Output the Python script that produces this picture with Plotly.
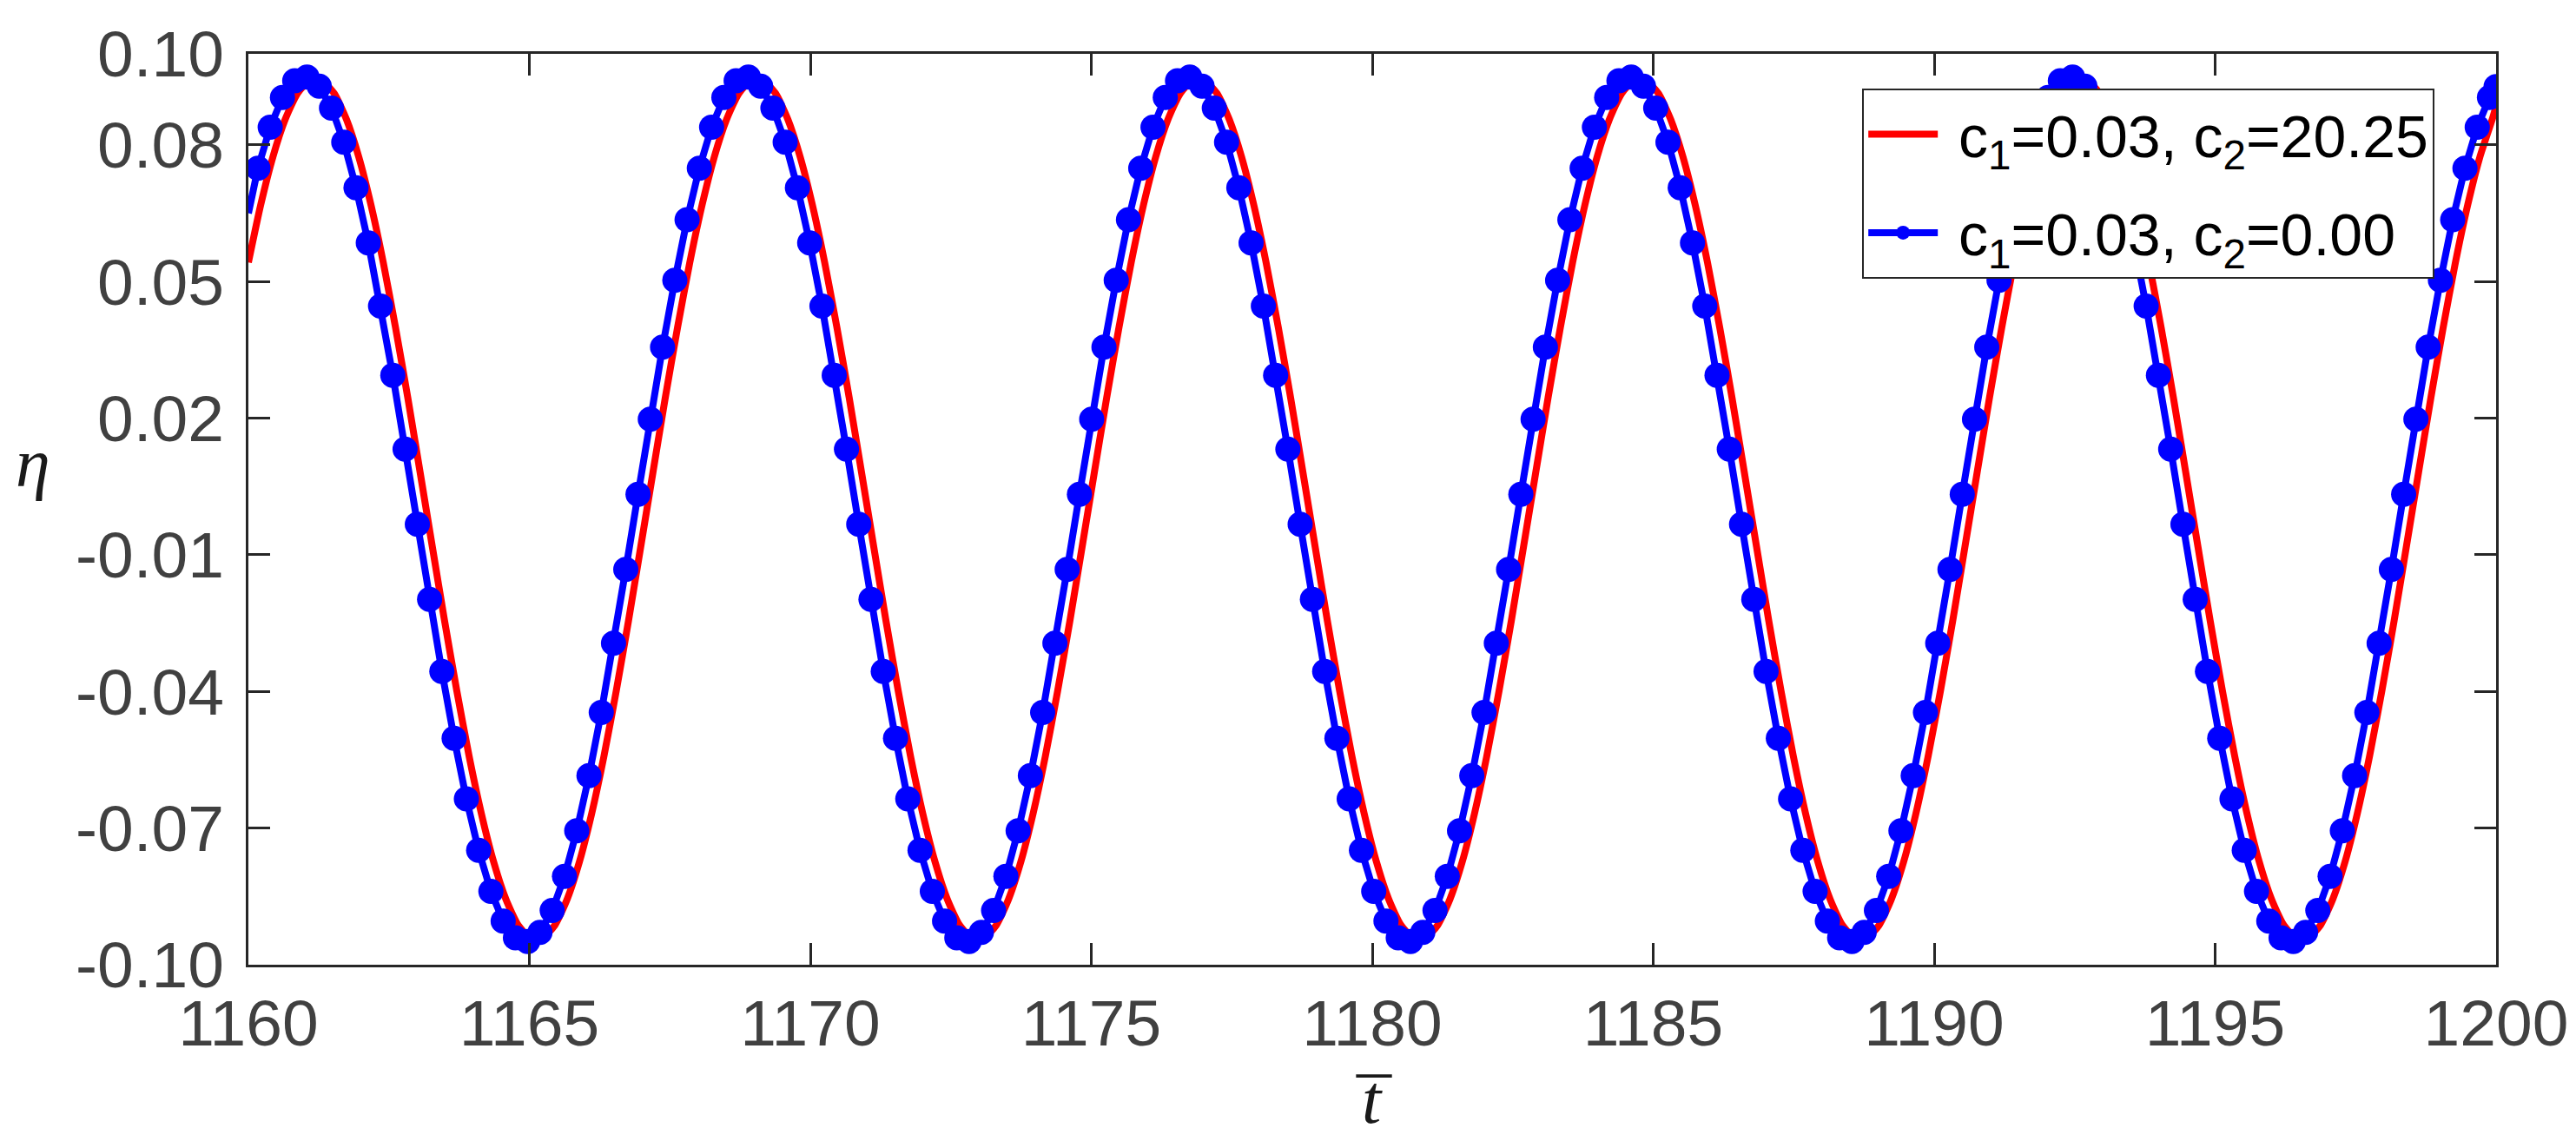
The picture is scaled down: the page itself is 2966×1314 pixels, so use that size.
import numpy as np
import plotly.graph_objects as go

# time grid (marker spacing: 36 markers per wave period)
t_red = np.round(1160.0 + 0.2182 * np.arange(184), 4).tolist() + [1200.0]
t_blue = [1160.0] + np.round(1160.17 + 0.2182 * np.arange(183), 4).tolist() + [1200.0]

# c1=0.03, c2=20.25  (red line)
eta_red = [
    0.0542, 0.0668, 0.0774, 0.0856, 0.0913, 0.0941, 0.0941, 0.0913, 0.0856, 0.0774, 0.0668, 0.0542,
    0.0399, 0.0245, 0.0082, -0.0082, -0.0245, -0.0399, -0.0542, -0.0668, -0.0774, -0.0856, -0.0913, -0.0941,
    -0.0941, -0.0913, -0.0856, -0.0774, -0.0668, -0.0542, -0.0399, -0.0245, -0.0082, 0.0082, 0.0245, 0.0399,
    0.0542, 0.0668, 0.0774, 0.0856, 0.0913, 0.0941, 0.0941, 0.0913, 0.0856, 0.0774, 0.0668, 0.0542,
    0.0399, 0.0245, 0.0082, -0.0082, -0.0245, -0.0399, -0.0542, -0.0668, -0.0774, -0.0856, -0.0913, -0.0941,
    -0.0941, -0.0913, -0.0856, -0.0774, -0.0668, -0.0542, -0.0399, -0.0245, -0.0082, 0.0082, 0.0245, 0.0399,
    0.0542, 0.0668, 0.0774, 0.0856, 0.0913, 0.0941, 0.0941, 0.0913, 0.0856, 0.0774, 0.0668, 0.0542,
    0.0399, 0.0245, 0.0082, -0.0082, -0.0245, -0.0399, -0.0542, -0.0668, -0.0774, -0.0856, -0.0913, -0.0941,
    -0.0941, -0.0913, -0.0856, -0.0774, -0.0668, -0.0542, -0.0399, -0.0245, -0.0082, 0.0082, 0.0245, 0.0399,
    0.0542, 0.0668, 0.0774, 0.0856, 0.0913, 0.0941, 0.0941, 0.0913, 0.0856, 0.0774, 0.0668, 0.0542,
    0.0399, 0.0245, 0.0082, -0.0082, -0.0245, -0.0399, -0.0542, -0.0668, -0.0774, -0.0856, -0.0913, -0.0941,
    -0.0941, -0.0913, -0.0856, -0.0774, -0.0668, -0.0542, -0.0399, -0.0245, -0.0082, 0.0082, 0.0245, 0.0399,
    0.0542, 0.0668, 0.0774, 0.0856, 0.0913, 0.0941, 0.0941, 0.0913, 0.0856, 0.0774, 0.0668, 0.0542,
    0.0399, 0.0245, 0.0082, -0.0082, -0.0245, -0.0399, -0.0542, -0.0668, -0.0774, -0.0856, -0.0913, -0.0941,
    -0.0941, -0.0913, -0.0856, -0.0774, -0.0668, -0.0542, -0.0399, -0.0245, -0.0082, 0.0082, 0.0245, 0.0399,
    0.0542, 0.0668, 0.0774, 0.0856, 0.0885,
]

# c1=0.03, c2=0.00  (blue line with markers)
eta_blue = [
    0.0650,
    0.0749, 0.0839, 0.0904, 0.0941, 0.0949, 0.0929, 0.0881, 0.0806, 0.0706, 0.0585, 0.0446, 0.0294,
    0.0132, -0.0033, -0.0198, -0.0356, -0.0503, -0.0636, -0.0749, -0.0839, -0.0904, -0.0941, -0.0949, -0.0929,
    -0.0881, -0.0806, -0.0706, -0.0585, -0.0446, -0.0294, -0.0132, 0.0033, 0.0198, 0.0356, 0.0503, 0.0636,
    0.0749, 0.0839, 0.0904, 0.0941, 0.0949, 0.0929, 0.0881, 0.0806, 0.0706, 0.0585, 0.0446, 0.0294,
    0.0132, -0.0033, -0.0198, -0.0356, -0.0503, -0.0636, -0.0749, -0.0839, -0.0904, -0.0941, -0.0949, -0.0929,
    -0.0881, -0.0806, -0.0706, -0.0585, -0.0446, -0.0294, -0.0132, 0.0033, 0.0198, 0.0356, 0.0503, 0.0636,
    0.0749, 0.0839, 0.0904, 0.0941, 0.0949, 0.0929, 0.0881, 0.0806, 0.0706, 0.0585, 0.0446, 0.0294,
    0.0132, -0.0033, -0.0198, -0.0356, -0.0503, -0.0636, -0.0749, -0.0839, -0.0904, -0.0941, -0.0949, -0.0929,
    -0.0881, -0.0806, -0.0706, -0.0585, -0.0446, -0.0294, -0.0132, 0.0033, 0.0198, 0.0356, 0.0503, 0.0636,
    0.0749, 0.0839, 0.0904, 0.0941, 0.0949, 0.0929, 0.0881, 0.0806, 0.0706, 0.0585, 0.0446, 0.0294,
    0.0132, -0.0033, -0.0198, -0.0356, -0.0503, -0.0636, -0.0749, -0.0839, -0.0904, -0.0941, -0.0949, -0.0929,
    -0.0881, -0.0806, -0.0706, -0.0585, -0.0446, -0.0294, -0.0132, 0.0033, 0.0198, 0.0356, 0.0503, 0.0636,
    0.0749, 0.0839, 0.0904, 0.0941, 0.0949, 0.0929, 0.0881, 0.0806, 0.0706, 0.0585, 0.0446, 0.0294,
    0.0132, -0.0033, -0.0198, -0.0356, -0.0503, -0.0636, -0.0749, -0.0839, -0.0904, -0.0941, -0.0949, -0.0929,
    -0.0881, -0.0806, -0.0706, -0.0585, -0.0446, -0.0294, -0.0132, 0.0033, 0.0198, 0.0356, 0.0503, 0.0636,
    0.0749, 0.0839, 0.0904,
    0.0928,
]
blue_marker_size = [0] + [29] * 183 + [29]

y_ticks = [-0.10, -0.07, -0.04, -0.01, 0.02, 0.05, 0.08, 0.10]
y_ticktext = ["-0.10", "-0.07", "-0.04", "-0.01", "0.02", "0.05", "0.08", "0.10"]
x_ticks = [1160, 1165, 1170, 1175, 1180, 1185, 1190, 1195, 1200]

legend_names = ["&nbsp;c<sub>1</sub>=0.03, c<sub>2</sub>=20.25",
                "&nbsp;c<sub>1</sub>=0.03, c<sub>2</sub>=0.00"]

axis_col = "#262626"
tick_font = dict(family="Liberation Sans, Arial", size=75, color="#404040")

fig = go.Figure()
fig.add_trace(go.Scatter(x=t_red, y=eta_red, mode="lines", name=legend_names[0], legendgroup="a",
                         line=dict(color="#ff0000", width=8, shape="spline", smoothing=0.6)))
fig.add_trace(go.Scatter(x=t_blue, y=eta_blue, mode="lines+markers", name=legend_names[1], legendgroup="b",
                         line=dict(color="#0000ff", width=8),
                         marker=dict(color="#0000ff", size=blue_marker_size, opacity=1,
                                     line=dict(width=0))))

fig.update_xaxes(range=[1160, 1200], tickvals=x_ticks, ticks="inside", ticklen=25, tickwidth=3,
                 tickcolor=axis_col, showline=True, linewidth=3, linecolor=axis_col, mirror="ticks",
                 showgrid=False, zeroline=False, tickfont=tick_font, ticklabelstandoff=0)
fig.update_yaxes(range=[-0.10, 0.10], tickvals=y_ticks, ticktext=y_ticktext, ticks="inside", ticklen=25,
                 tickwidth=3, tickcolor=axis_col, showline=True, linewidth=3, linecolor=axis_col,
                 mirror="ticks", showgrid=False, zeroline=False, tickfont=tick_font, ticklabelstandoff=10)

label_font = dict(family="Liberation Serif", size=80, color="#1a1a1a")
fig.add_annotation(text="<i>η</i>", xref="paper", yref="paper", x=-0.096, y=0.551,
                   xanchor="center", yanchor="middle", showarrow=False, font=label_font)
fig.add_annotation(text="<i>t</i>", xref="paper", yref="paper", x=0.5, y=-0.148,
                   xanchor="center", yanchor="middle", showarrow=False, font=label_font)
fig.add_annotation(text="\u00af", xref="paper", yref="paper", x=0.5008, y=-0.153,
                   xanchor="center", yanchor="middle", showarrow=False, font=label_font)

fig.update_layout(
    width=2966, height=1314,
    margin=dict(l=278, r=100, t=44, b=211),
    plot_bgcolor="white", paper_bgcolor="white",
    legend=dict(x=0.718, y=0.962, xanchor="left", yanchor="top", bgcolor="white",
                bordercolor=axis_col, borderwidth=2, itemwidth=80, itemsizing="trace",
                traceorder="grouped", tracegroupgap=22,
                font=dict(family="Liberation Sans, Arial", size=68, color="black")),
)

fig.write_html("out.html")
